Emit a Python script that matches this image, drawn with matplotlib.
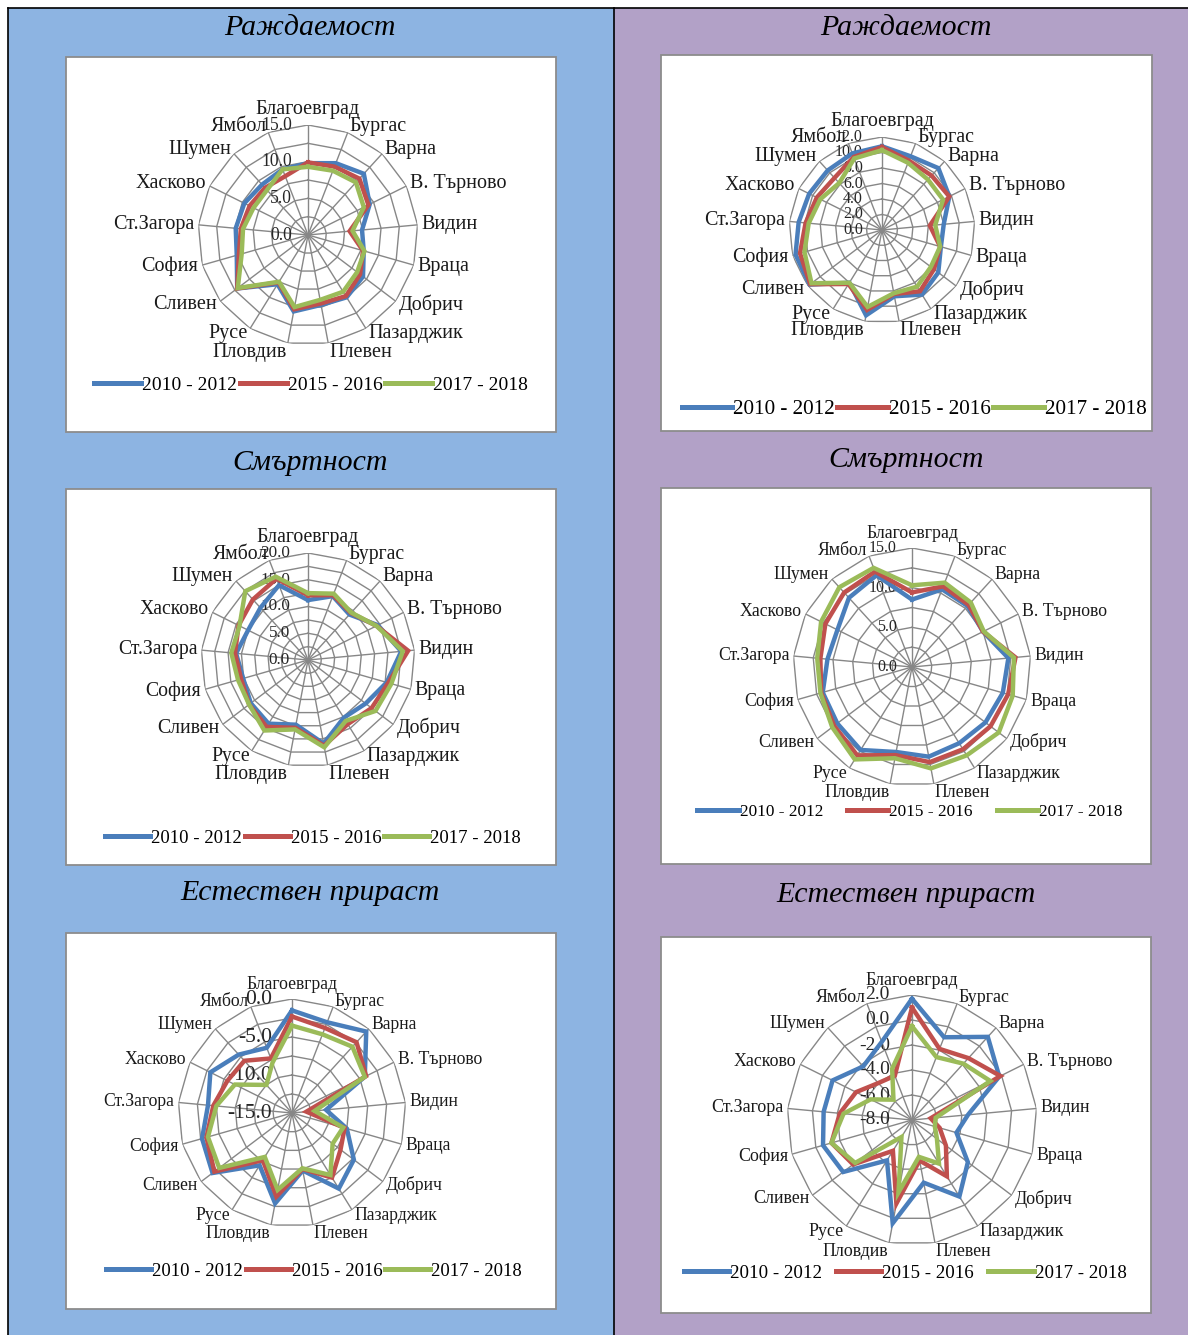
import numpy as np
import matplotlib
matplotlib.use("Agg")
import matplotlib.pyplot as plt
from matplotlib.patches import Rectangle
from matplotlib.lines import Line2D

plt.rcParams['font.family'] = ['Liberation Serif', 'DejaVu Serif']

W, H = 1188, 1335

""" DATA """
categories = ['Благоевград', 'Бургас', 'Варна', 'В. Търново', 'Видин', 'Враца',
              'Добрич', 'Пазарджик', 'Плевен', 'Пловдив', 'Русе', 'Сливен',
              'София', 'Ст.Загора', 'Хасково', 'Шумен', 'Ямбол']
series_names = ['2010 - 2012', '2015 - 2016', '2017 - 2018']
titles = ['Раждаемост', 'Смъртност', 'Естествен прираст']

# birth rate, left column
birth_left_2010 = [9.8, 10.5, 11.3, 9.4, 7.4, 7.9, 9.4, 10.0, 9.7, 10.6, 7.9, 12.1, 10.1, 9.9, 9.7, 9.3, 9.6]
birth_left_2015 = [9.9, 10.0, 10.4, 9.2, 5.7, 7.8, 8.9, 9.8, 9.5, 10.3, 7.6, 12.1, 9.8, 9.2, 8.9, 8.7, 8.6]
birth_left_2017 = [9.3, 9.4, 9.7, 8.5, 6.1, 8.0, 8.4, 9.1, 9.0, 10.0, 7.5, 12.0, 9.4, 8.9, 8.3, 8.3, 9.6]

# birth rate, right column
birth_right_2010 = [10.8, 10.2, 10.8, 9.7, 8.0, 7.9, 9.1, 9.8, 8.7, 11.2, 8.0, 11.7, 11.6, 10.8, 10.5, 10.4, 10.6]
birth_right_2015 = [10.7, 9.6, 9.5, 9.7, 6.2, 7.8, 8.4, 9.3, 8.4, 10.5, 8.2, 11.6, 11.0, 9.9, 9.4, 9.1, 10.1]
birth_right_2017 = [10.3, 9.3, 8.8, 8.8, 6.9, 7.8, 7.9, 8.6, 8.3, 10.1, 8.0, 11.4, 10.4, 9.5, 8.9, 8.2, 9.9]

# mortality, left column
death_left_2010 = [11.2, 12.8, 11.5, 14.6, 17.5, 15.3, 13.5, 12.7, 15.9, 12.3, 14.0, 13.4, 12.6, 13.5, 12.5, 13.2, 15.0]
death_left_2015 = [12.1, 13.0, 11.9, 14.3, 18.8, 15.6, 14.9, 14.1, 16.3, 12.9, 14.7, 13.8, 13.0, 13.7, 14.5, 15.3, 16.3]
death_left_2017 = [12.5, 13.3, 12.0, 14.3, 17.8, 16.2, 15.8, 13.4, 16.6, 13.2, 15.5, 13.8, 13.6, 14.4, 14.3, 17.4, 16.7]

# mortality, right column
death_right_2010 = [8.5, 10.5, 10.4, 10.0, 12.2, 11.9, 11.6, 11.3, 11.5, 10.9, 12.3, 11.8, 11.7, 10.7, 10.5, 11.8, 12.4]
death_right_2015 = [9.4, 10.9, 10.6, 10.0, 13.1, 12.6, 12.4, 12.2, 12.2, 11.3, 13.1, 12.3, 11.9, 11.6, 12.2, 12.7, 12.9]
death_right_2017 = [10.3, 11.4, 11.0, 10.1, 12.9, 13.2, 13.7, 13.1, 13.0, 11.7, 13.7, 12.6, 12.0, 12.0, 12.8, 13.6, 13.4]

# natural growth, left column
growth_left_2010 = [-1.5, -2.2, -0.5, -4.3, -10.5, -7.5, -4.8, -3.3, -7.3, -2.9, -6.9, -1.9, -2.7, -3.9, -3.0, -4.6, -5.8]
growth_left_2015 = [-2.3, -3.0, -2.4, -4.1, -13.1, -7.8, -7.0, -5.0, -7.5, -3.8, -7.7, -2.2, -3.3, -4.6, -5.5, -5.7, -7.3]
growth_left_2017 = [-3.5, -3.9, -3.2, -4.3, -12.0, -8.0, -8.3, -5.4, -7.6, -4.7, -8.2, -3.0, -3.5, -5.0, -6.6, -10.0, -7.9]

# natural growth, right column
growth_right_2010 = [1.7, -0.9, 1.0, -0.2, -3.5, -4.3, -2.4, -0.8, -2.9, 0.4, -4.2, -1.1, -0.6, -0.9, -0.9, -2.2, -1.3]
growth_right_2015 = [1.0, -1.9, -1.3, -0.1, -6.5, -5.7, -4.6, -2.7, -4.7, -1.2, -5.1, -2.1, -1.3, -2.2, -3.0, -4.0, -4.2]
growth_right_2017 = [-0.5, -2.6, -1.9, -1.0, -6.1, -6.1, -5.5, -3.9, -5.0, -2.1, -6.4, -2.3, -1.3, -2.5, -4.3, -5.8, -3.6]

colors = ['#4a7ebb', '#c0504d', '#9bbb59']
grid_color = '#878787'


def fx(x):
    return x / W


def fy(y):
    return 1 - y / H


""" ONE RADAR PANEL """
def radar(fig, cx, cy, rad, lo, hi, step, ring, values, fs, tick_fs, tick_dx, leg_xy, leg_fs, colsp):
    ax = fig.add_axes([fx(cx - rad), fy(cy + rad), 2 * rad / W, 2 * rad / H], projection='polar')
    ax.set_theta_zero_location('N')
    ax.set_theta_direction(-1)
    ax.set_ylim(lo, hi)
    ax.axis('off')
    ax.set_zorder(2)

    n = len(categories)
    theta = np.linspace(0, 2 * np.pi, n, endpoint=False)
    closed = np.append(theta, theta[0])

    # polygon rings and spokes
    for v in np.arange(lo + ring, hi + ring / 2, ring):
        ax.plot(closed, [v] * (n + 1), color=grid_color, lw=1.0, zorder=1)
    for t in theta:
        ax.plot([t, t], [lo, hi], color=grid_color, lw=1.0, zorder=1)

    # value labels along the top spoke
    for v in np.arange(lo, hi + step / 2, step):
        ax.annotate(f"{v:.1f}", xy=(0, v), xytext=(-tick_dx, 0), textcoords='offset pixels',
                    ha='right', va='center', fontsize=tick_fs, color='#262626', zorder=2)

    # category labels around the outside
    for t, name in zip(theta, categories):
        s, c = np.sin(t), np.cos(t)
        ha = 'center' if abs(s) < 0.05 else ('left' if s > 0 else 'right')
        va = 'bottom' if c > 0.95 else ('top' if c < -0.95 else 'center')
        dy = 6 * c if c > -0.95 else 0
        ax.annotate(name, xy=(t, hi), xytext=(4 * s, dy), textcoords='offset pixels',
                    ha=ha, va=va, fontsize=fs, color='#1a1a1a')

    handles = []
    for vals, col in zip(values, colors):
        ln, = ax.plot(closed, np.append(vals, vals[0]), color=col, lw=3.2, zorder=3,
                      solid_joinstyle='miter')
        handles.append(ln)

    leg = fig.legend(handles, series_names, loc='center', bbox_to_anchor=(fx(leg_xy[0]), fy(leg_xy[1])),
                     ncol=3, frameon=False, fontsize=leg_fs, handlelength=2.4, handletextpad=0.05,
                     columnspacing=colsp, borderaxespad=0)
    leg.set_zorder(3)
    for h in leg.legend_handles:
        h.set_linewidth(3.6)
    return ax


fig = plt.figure(figsize=(W / 100, H / 100), dpi=100)

# coloured columns of the table
fig.patches.append(Rectangle((fx(8), 0), fx(614) - fx(8), fy(8), transform=fig.transFigure,
                             facecolor='#8db4e2', edgecolor='none', zorder=-3))
fig.patches.append(Rectangle((fx(614), 0), 1 - fx(614), fy(8), transform=fig.transFigure,
                             facecolor='#b2a1c7', edgecolor='none', zorder=-3))
for x in [8, 614]:
    fig.lines.append(Line2D([fx(x), fx(x)], [0, fy(8)], transform=fig.transFigure, color='black',
                            lw=1.2, zorder=-1))
fig.lines.append(Line2D([fx(8), 1], [fy(8), fy(8)], transform=fig.transFigure, color='black',
                        lw=1.2, zorder=-1))

# white chart boxes (x0, y0, x1, y1)
boxes = [(66, 57, 556, 432), (661, 55, 1152, 431),
         (66, 489, 556, 865), (661, 488, 1151, 864),
         (66, 933, 556, 1309), (661, 937, 1151, 1313)]
for x0, y0, x1, y1 in boxes:
    fig.patches.append(Rectangle((fx(x0), fy(y1)), (x1 - x0) / W, (y1 - y0) / H,
                                 transform=fig.transFigure, facecolor='white',
                                 edgecolor='#8c8c8c', lw=1.3, zorder=-2))

# titles
title_pos = [(310, 28, 0), (906, 28, 0), (310, 463, 1), (906, 460, 1), (310, 893, 2), (906, 895, 2)]
for x, y, i in title_pos:
    fig.text(fx(x), fy(y), titles[i], ha='center', va='center', fontsize=21.5, style='italic')

radar(fig, 308, 235, 110, 0, 15, 5, 2.5, [birth_left_2010, birth_left_2015, birth_left_2017],
      14.5, 12.7, 16, (311, 385), 14, 0.15)
radar(fig, 882, 230, 93, 0, 12, 2, 2, [birth_right_2010, birth_right_2015, birth_right_2017],
      14.4, 11.5, 19, (914, 409), 15.2, 0.1)
radar(fig, 308, 660, 107, 0, 20, 5, 2.5, [death_left_2010, death_left_2015, death_left_2017],
      14.2, 12.3, 18, (313, 838), 13.5, 0.15)
radar(fig, 912, 667, 119, 0, 15, 5, 2.5, [death_right_2010, death_right_2015, death_right_2017],
      12.8, 11.5, 15, (910, 812), 12.4, 1.4)
radar(fig, 292, 1113, 114, -15, 0, 5, 2.5, [growth_left_2010, growth_left_2015, growth_left_2017],
      12.7, 15.5, 20, (314, 1271), 13.5, 0.15)
radar(fig, 912, 1120, 125, -8, 2, 2, 2, [growth_right_2010, growth_right_2015, growth_right_2017],
      12.9, 14, 22, (905, 1273), 13.6, 0.75)

fig.savefig('out.png', dpi=100)
